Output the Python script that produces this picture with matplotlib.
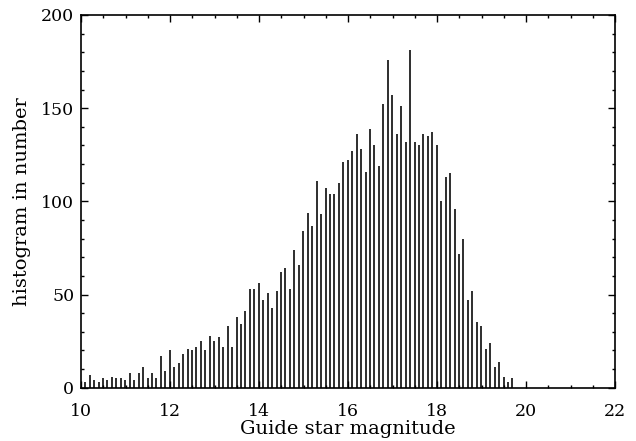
import numpy as np
import matplotlib.pyplot as plt
from matplotlib.ticker import MultipleLocator

# histogram of guide star magnitudes, 0.1 mag bins
bin_start = 10.04
bin_width = 0.1
counts = [
    3, 7, 4, 3, 5, 4, 6, 5, 5, 4,
    8, 4, 8, 11, 5, 8, 5, 17, 9, 20,
    11, 13, 18, 21, 20, 22, 25, 20, 28, 25,
    27, 22, 33, 22, 38, 34, 41, 53, 53, 56,
    47, 51, 43, 52, 62, 64, 53, 74, 66, 84,
    94, 87, 111, 93, 107, 104, 104, 110, 121, 122,
    127, 136, 128, 116, 139, 130, 119, 152, 176, 157,
    136, 151, 132, 181, 132, 130, 136, 135, 137, 130,
    100, 113, 115, 96, 72, 80, 47, 52, 35, 33,
    21, 24, 11, 14, 6, 3, 5,
]
xticks = [10, 12, 14, 16, 18, 20, 22]
yticks = [0, 50, 100, 150, 200]

counts = np.array(counts)
mag = bin_start + bin_width / 2 + bin_width * np.arange(len(counts))

plt.rcParams['font.family'] = 'DejaVu Serif'

fig = plt.figure(figsize=(6.36, 4.41), dpi=100)
ax = fig.add_axes([0.1277, 0.1209, 0.8396, 0.8451])

ax.vlines(mag, 0, counts, color='black', linewidth=1.15)

ax.set_xlim(10, 22)
ax.set_ylim(0, 200)
ax.set_xticks(xticks)
ax.set_yticks(yticks)
ax.xaxis.set_minor_locator(MultipleLocator(0.5))
ax.yaxis.set_minor_locator(MultipleLocator(10))
ax.tick_params(which='both', direction='in', top=True, right=True, width=1.0, labelsize=12.5)
ax.tick_params(which='major', length=5)
ax.tick_params(which='minor', length=2.5)
ax.tick_params(axis='x', pad=11)
ax.tick_params(axis='y', pad=5)
for sp in ax.spines.values():
    sp.set_linewidth(1.2)

ax.set_xlabel('Guide star magnitude', fontsize=14, labelpad=0)
ax.set_ylabel('histogram in number', fontsize=14, labelpad=7)

fig.savefig('out.png', dpi=100)
